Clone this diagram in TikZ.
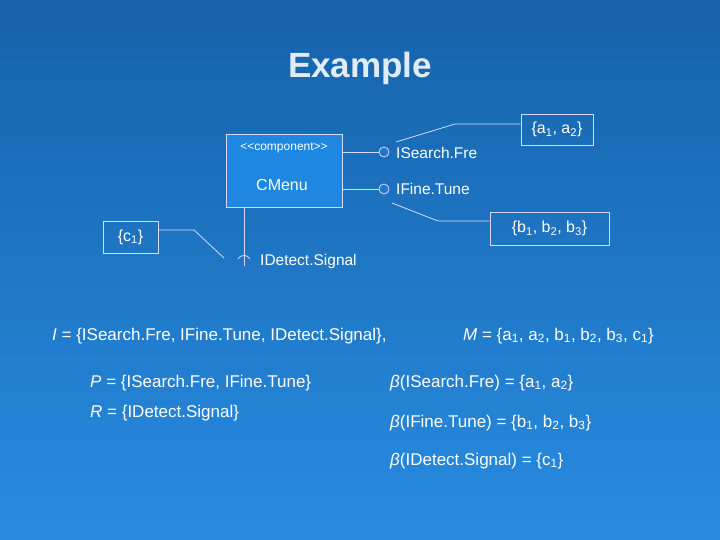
\documentclass[tikz,border=0pt]{standalone}
\usepackage{fontspec}
\setmainfont{Liberation Sans}
\newcommand{\sbs}[1]{\textsubscript{#1}}
\begin{document}
\begin{tikzpicture}[x=1pt,y=-1pt,
  ln/.style={draw=white!85!blue,line width=0.8pt},
  note/.style={ln,inner sep=0pt,minimum height=31pt,font=\fontsize{16}{18}\selectfont,text=white},
  lbl/.style={anchor=west,font=\fontsize{15.5}{17}\selectfont,text=white,inner sep=0pt},
  eq/.style={anchor=west,font=\fontsize{17}{19}\selectfont,text=white,inner sep=0pt}]
\shade[top color={rgb,255:red,22;green,98;blue,170},bottom color={rgb,255:red,40;green,140;blue,225}] (0,0) rectangle (720,540);
\useasboundingbox (0,0) rectangle (720,540);
\node[font=\bfseries\fontsize{35}{38}\selectfont,text={rgb,255:red,225;green,235;blue,245}] (title) at (360,68) {Example};
\node[ln,fill={rgb,255:red,30;green,135;blue,225},minimum width=116pt,minimum height=73pt,inner sep=0pt] (comp) at (284,170.5) {};
\node[font=\fontsize{12}{14}\selectfont,text=white] (st) at (284,148) {<{}<component>{}>};
\node[font=\fontsize{16}{18}\selectfont,text=white] (cn) at (282,185) {CMenu};
\node[circle,ln,fill={rgb,255:red,30;green,120;blue,210},minimum size=10pt,inner sep=0pt] (c1) at (384,152) {};
\node[circle,ln,fill={rgb,255:red,30;green,120;blue,210},minimum size=10pt,inner sep=0pt] (c2) at (384,189) {};
\draw[ln] (comp.east |- c1) -- (c1);
\draw[ln] (comp.east |- c2) -- (c2);
\node[lbl] (l1) at (396,153) {ISearch.Fre};
\node[lbl] (l2) at (396,189) {IFine.Tune};
\coordinate (sk) at (244,262);
\draw[ln] (comp.south -| sk) -- ([yshift=-4pt]sk);
\draw[ln] ([xshift=-6pt,yshift=3pt]sk) arc[start angle=150,end angle=30,radius=7pt];
\node[lbl] (l3) at (260,261) {IDetect.Signal};
\node[note,minimum width=72pt] (na) at (557,129.5) {\{a\sbs{1}, a\sbs{2}\}};
\node[note,minimum width=119pt,minimum height=33pt] (nb) at (549.5,228.5) {\{b\sbs{1}, b\sbs{2}, b\sbs{3}\}};
\node[note,minimum width=55pt,minimum height=32pt] (nc) at (130.5,237) {\{c\sbs{1}\}};
\coordinate (pa) at (396,142);
\coordinate (pb) at (392,203);
\coordinate (pc) at (224,258);
\draw[ln] (pa) -- (455,124) -- (na.west |- 0,124);
\draw[ln] (pb) -- (438,221) -- (nb.west |- 0,221);
\draw[ln] (nc.east |- 0,230) -- (194,230) -- (pc);
\node[eq] (e1) at (52,336) {\textit{I} = \{ISearch.Fre, IFine.Tune, IDetect.Signal\},};
\node[eq] (e2) at (463,336) {\textit{M} = \{a\sbs{1}, a\sbs{2}, b\sbs{1}, b\sbs{2}, b\sbs{3}, c\sbs{1}\}};
\node[eq] (e3) at (90,383) {\textit{P} = \{ISearch.Fre, IFine.Tune\}};
\node[eq] (e4) at (90,413) {\textit{R} = \{IDetect.Signal\}};
\node[eq] (e5) at (390,383) {\textit{β}(ISearch.Fre) = \{a\sbs{1}, a\sbs{2}\}};
\node[eq] (e6) at (390,423) {\textit{β}(IFine.Tune) = \{b\sbs{1}, b\sbs{2}, b\sbs{3}\}};
\node[eq] (e7) at (390,461) {\textit{β}(IDetect.Signal) = \{c\sbs{1}\}};
\end{tikzpicture}
\end{document}
